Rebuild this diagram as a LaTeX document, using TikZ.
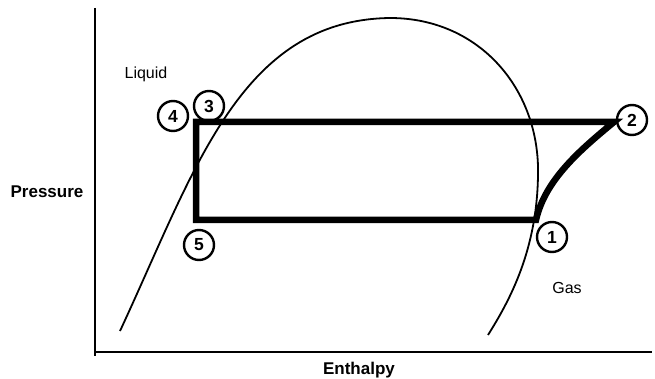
\documentclass[tikz,border=0pt]{standalone}
\usepackage{fontspec}
\setmainfont{Liberation Sans}
\begin{document}
\begin{tikzpicture}[x=1pt,y=-1pt,
  axisline/.style={line width=2.4pt},
  domeline/.style={line width=1.8pt},
  cycleline/.style={line width=6.5pt,line join=miter,miter limit=10},
  statecircle/.style={circle,draw,line width=2.4pt,minimum size=30pt,inner sep=0pt,font=\fontsize{17.5}{19}\selectfont\bfseries},
  axislabel/.style={font=\fontsize{17}{20}\selectfont\bfseries},
  phaselabel/.style={font=\fontsize{16}{19}\selectfont}]
\useasboundingbox (0,0) rectangle (655,379);
% axes
\coordinate (ytop) at (95,8);
\coordinate (origin) at (95,352);
\coordinate (xend) at (652,352);
\coordinate (ybot) at (95,356);
\draw[axisline] (ytop) -- (ybot);
\draw[axisline] (origin) -- (xend);
% dome
\coordinate (dl) at (120,331);
\coordinate (dtop) at (390,18);
\coordinate (dr) at (538,175);
\coordinate (dend) at (488,335);
\draw[domeline] (dl) .. controls (195,170) and (240,20) .. (dtop)
  .. controls (480,18) and (540,90) .. (dr)
  .. controls (537,250) and (510,300) .. (dend);
% cycle
\coordinate (p1) at (536,220);
\coordinate (p2) at (614,122);
\coordinate (p3) at (196,122);
\coordinate (p5) at (196,220);
\draw[cycleline] (p5) -- (p1) .. controls (545,180) and (580,150) .. (p2) -- (p3) -- cycle;
% state labels
\node[statecircle] (n1) at (552,237) {1};
\node[statecircle] (n2) at (632,120) {2};
\node[statecircle] (n3) at (209,106) {3};
\node[statecircle] (n4) at (173,116) {4};
\node[statecircle] (n5) at (199,245) {5};
% texts
\node[phaselabel] (liquid) at (146,74) {Liquid};
\node[phaselabel] (gas) at (567,288) {Gas};
\node[axislabel] (pressure) at (47,192) {Pressure};
\node[axislabel] (enthalpy) at (359,370) {Enthalpy};
\end{tikzpicture}
\end{document}
